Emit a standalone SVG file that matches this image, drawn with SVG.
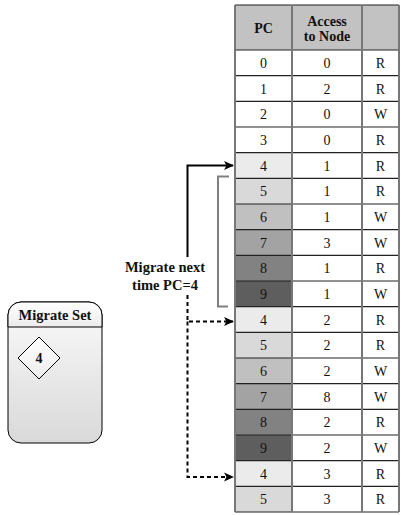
<svg xmlns="http://www.w3.org/2000/svg" width="401" height="515" viewBox="0 0 401 515">
<defs>
<linearGradient id="boxg" x1="0" y1="0" x2="0" y2="1">
<stop offset="0" stop-color="#fafafa"/>
<stop offset="1" stop-color="#d9d9d9"/>
</linearGradient>
<linearGradient id="hdrg" x1="0" y1="0" x2="0" y2="1">
<stop offset="0" stop-color="#ffffff"/>
<stop offset="1" stop-color="#ececec"/>
</linearGradient>
<marker id="ah" markerWidth="10" markerHeight="10" refX="9" refY="5" orient="auto" markerUnits="userSpaceOnUse">
<path d="M0,0.5 L10,5 L0,9.5 L2.5,5 Z" fill="#000"/>
</marker>
<style>
text{font-family:"Liberation Serif","DejaVu Serif",serif;fill:#111;text-anchor:middle}
.t{font-size:14px}
.b{font-size:14px;font-weight:bold}
.lbl{font-size:14.5px;font-weight:bold}
.hl{stroke:#222;stroke-width:1.2}
.vl{stroke:#777;stroke-width:2}
</style>
</defs>
<g id="table">
<rect x="235" y="5" width="164" height="45" fill="#c2c2c2"/>
<rect x="235" y="50" width="164" height="462" fill="#fff"/>
<g id="pc-shades">
<rect x="235" y="152.67" width="57" height="25.67" fill="#ebebeb"/>
<rect x="235" y="178.33" width="57" height="25.67" fill="#d9d9d9"/>
<rect x="235" y="204" width="57" height="25.67" fill="#c0c0c0"/>
<rect x="235" y="229.67" width="57" height="25.67" fill="#a3a3a3"/>
<rect x="235" y="255.33" width="57" height="25.67" fill="#828282"/>
<rect x="235" y="281" width="57" height="25.67" fill="#5e5e5e"/>
<rect x="235" y="306.67" width="57" height="25.67" fill="#ebebeb"/>
<rect x="235" y="332.33" width="57" height="25.67" fill="#d9d9d9"/>
<rect x="235" y="358" width="57" height="25.67" fill="#c0c0c0"/>
<rect x="235" y="383.67" width="57" height="25.67" fill="#a3a3a3"/>
<rect x="235" y="409.33" width="57" height="25.67" fill="#828282"/>
<rect x="235" y="435" width="57" height="25.67" fill="#5e5e5e"/>
<rect x="235" y="460.67" width="57" height="25.67" fill="#ebebeb"/>
<rect x="235" y="486.33" width="57" height="25.67" fill="#d9d9d9"/>
</g>
<g id="grid">
<line class="hl" x1="235" y1="5" x2="399" y2="5"/>
<line class="hl" x1="235" y1="50" x2="399" y2="50"/>
<line class="hl" x1="235" y1="75.67" x2="399" y2="75.67"/>
<line class="hl" x1="235" y1="101.33" x2="399" y2="101.33"/>
<line class="hl" x1="235" y1="127" x2="399" y2="127"/>
<line class="hl" x1="235" y1="152.67" x2="399" y2="152.67"/>
<line class="hl" x1="235" y1="178.33" x2="399" y2="178.33"/>
<line class="hl" x1="235" y1="204" x2="399" y2="204"/>
<line class="hl" x1="235" y1="229.67" x2="399" y2="229.67"/>
<line class="hl" x1="235" y1="255.33" x2="399" y2="255.33"/>
<line class="hl" x1="235" y1="281" x2="399" y2="281"/>
<line class="hl" x1="235" y1="306.67" x2="399" y2="306.67"/>
<line class="hl" x1="235" y1="332.33" x2="399" y2="332.33"/>
<line class="hl" x1="235" y1="358" x2="399" y2="358"/>
<line class="hl" x1="235" y1="383.67" x2="399" y2="383.67"/>
<line class="hl" x1="235" y1="409.33" x2="399" y2="409.33"/>
<line class="hl" x1="235" y1="435" x2="399" y2="435"/>
<line class="hl" x1="235" y1="460.67" x2="399" y2="460.67"/>
<line class="hl" x1="235" y1="486.33" x2="399" y2="486.33"/>
<line class="hl" x1="235" y1="512" x2="399" y2="512"/>
<line class="vl" x1="235" y1="5" x2="235" y2="512"/>
<line class="vl" x1="292" y1="5" x2="292" y2="512"/>
<line class="vl" x1="362" y1="5" x2="362" y2="512"/>
<line class="vl" x1="399" y1="5" x2="399" y2="512"/>
</g>
<g id="header-text">
<text class="b" x="263.5" y="33">PC</text>
<text class="b" x="327" y="26">Access</text>
<text class="b" x="327" y="41">to Node</text>
</g>
<g id="rows">
<text class="t" x="263.5" y="68">0</text><text class="t" x="327" y="68">0</text><text class="t" x="380.5" y="68">R</text>
<text class="t" x="263.5" y="93.67">1</text><text class="t" x="327" y="93.67">2</text><text class="t" x="380.5" y="93.67">R</text>
<text class="t" x="263.5" y="119.33">2</text><text class="t" x="327" y="119.33">0</text><text class="t" x="380.5" y="119.33">W</text>
<text class="t" x="263.5" y="145">3</text><text class="t" x="327" y="145">0</text><text class="t" x="380.5" y="145">R</text>
<text class="t" x="263.5" y="170.67">4</text><text class="t" x="327" y="170.67">1</text><text class="t" x="380.5" y="170.67">R</text>
<text class="t" x="263.5" y="196.33">5</text><text class="t" x="327" y="196.33">1</text><text class="t" x="380.5" y="196.33">R</text>
<text class="t" x="263.5" y="222">6</text><text class="t" x="327" y="222">1</text><text class="t" x="380.5" y="222">W</text>
<text class="t" x="263.5" y="247.67">7</text><text class="t" x="327" y="247.67">3</text><text class="t" x="380.5" y="247.67">W</text>
<text class="t" x="263.5" y="273.33">8</text><text class="t" x="327" y="273.33">1</text><text class="t" x="380.5" y="273.33">R</text>
<text class="t" x="263.5" y="299">9</text><text class="t" x="327" y="299">1</text><text class="t" x="380.5" y="299">W</text>
<text class="t" x="263.5" y="324.67">4</text><text class="t" x="327" y="324.67">2</text><text class="t" x="380.5" y="324.67">R</text>
<text class="t" x="263.5" y="350.33">5</text><text class="t" x="327" y="350.33">2</text><text class="t" x="380.5" y="350.33">R</text>
<text class="t" x="263.5" y="376">6</text><text class="t" x="327" y="376">2</text><text class="t" x="380.5" y="376">W</text>
<text class="t" x="263.5" y="401.67">7</text><text class="t" x="327" y="401.67">8</text><text class="t" x="380.5" y="401.67">W</text>
<text class="t" x="263.5" y="427.33">8</text><text class="t" x="327" y="427.33">2</text><text class="t" x="380.5" y="427.33">R</text>
<text class="t" x="263.5" y="453">9</text><text class="t" x="327" y="453">2</text><text class="t" x="380.5" y="453">W</text>
<text class="t" x="263.5" y="478.67">4</text><text class="t" x="327" y="478.67">3</text><text class="t" x="380.5" y="478.67">R</text>
<text class="t" x="263.5" y="504.33">5</text><text class="t" x="327" y="504.33">3</text><text class="t" x="380.5" y="504.33">R</text>
</g>
</g>
<g id="migrate-set">
<rect x="8" y="302" width="94" height="141" rx="13" ry="13" fill="url(#boxg)" stroke="#000" stroke-width="1"/>
<path d="M8,327 L8,315 A13,13 0 0 1 21,302 L89,302 A13,13 0 0 1 102,315 L102,327 Z" fill="url(#hdrg)" stroke="#000" stroke-width="1"/>
<text class="lbl" x="55" y="320">Migrate Set</text>
<polygon points="39,337 60,358 39,379 18,358" fill="url(#hdrg)" stroke="#000" stroke-width="1"/>
<text class="b" x="39" y="362.5">4</text>
</g>
<g id="label">
<text class="lbl" x="165" y="272">Migrate next</text>
<text class="lbl" x="165" y="290">time PC=4</text>
</g>
<g id="connectors" fill="none">
<path d="M187.5,257 L187.5,165.5 L233,165.5" stroke="#000" stroke-width="2" marker-end="url(#ah)"/>
<path d="M229,176.5 L218,176.5 L218,306.5 L228,306.5" stroke="#808080" stroke-width="2"/>
<path d="M187.5,295 L187.5,321.5 L233,321.5" stroke="#000" stroke-width="2" stroke-dasharray="4,3" marker-end="url(#ah)"/>
<path d="M187.5,321.5 L187.5,477 L233,477" stroke="#000" stroke-width="2" stroke-dasharray="4,3" marker-end="url(#ah)"/>
</g>
</svg>
